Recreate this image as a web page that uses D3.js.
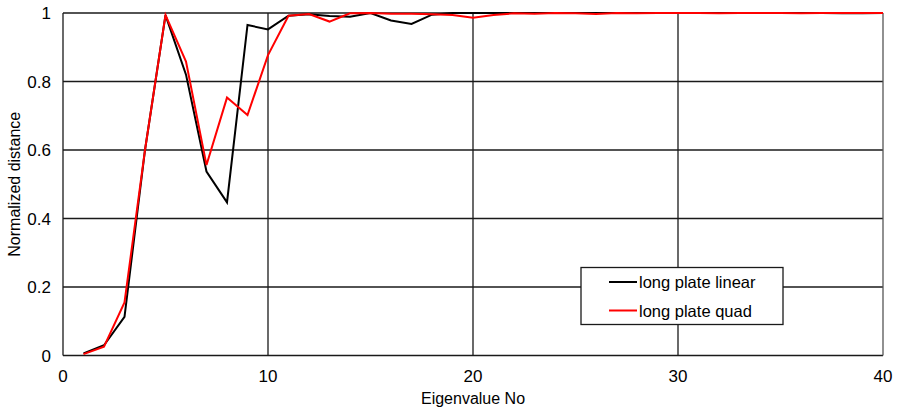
<!DOCTYPE html>
<html lang="en">
<head>
<meta charset="UTF-8"/>
<title>Normalized distance</title>
<script src="https://d3js.org/d3.v7.min.js"></script>
<style>
    body { margin: 0; background: #fff; }
    text { font-family: "Liberation Sans", Arial, sans-serif; fill: #000; }
</style>
</head>
<body>
<script>
    var w = 899;
    var h = 410;

    // eigenvalue numbers 1..40
    var eigenNo = [1,2,3,4,5,6,7,8,9,10,11,12,13,14,15,16,17,18,19,20,
                   21,22,23,24,25,26,27,28,29,30,31,32,33,34,35,36,37,38,39,40];

    var linear = [0.006,0.03,0.113,0.6,0.994,0.82,0.537,0.447,0.965,0.952,
                  0.992,0.996,0.991,0.989,1.0,0.978,0.968,0.995,1.0,1.0,
                  1.0,1.0,1.0,1.0,1.0,1.0,1.0,1.0,1.0,1.0,
                  1.0,1.0,1.0,1.0,1.0,1.0,1.0,0.999,0.999,1.0];

    var quad = [0.004,0.026,0.155,0.6,0.994,0.858,0.556,0.753,0.702,0.877,
                0.992,0.997,0.975,0.999,1.0,0.998,0.998,0.996,0.994,0.986,
                0.994,0.999,0.998,1.0,0.999,0.997,1.0,0.999,1.0,1.0,
                1.0,0.999,1.0,1.0,1.0,0.999,1.0,1.0,1.0,1.0];

    var xTicks = [0,10,20,30,40];
    var yTicks = [0,0.2,0.4,0.6,0.8,1];

    var series = [
        {name: "long plate linear", values: linear, color: "#000"},
        {name: "long plate quad", values: quad, color: "#ff0000"}
    ];

    var pLeft = 63, pRight = 883, pTop = 13, pBottom = 355.5;

    var xScale = d3.scaleLinear().domain([0, 40]).range([pLeft, pRight]);
    var yScale = d3.scaleLinear().domain([0, 1]).range([pBottom, pTop]);

    var svg = d3.select("body")
        .append("svg")
        .attr("width", w)
        .attr("height", h);

    // grid
    svg.selectAll(".hgrid")
        .data(yTicks)
        .enter()
        .append("line")
        .attr("x1", pLeft).attr("x2", pRight)
        .attr("y1", function(d){ return yScale(d); })
        .attr("y2", function(d){ return yScale(d); })
        .attr("stroke", "#1a1a1a")
        .attr("stroke-width", 1.3);

    svg.selectAll(".vgrid")
        .data(xTicks)
        .enter()
        .append("line")
        .attr("y1", pTop).attr("y2", pBottom)
        .attr("x1", function(d){ return xScale(d); })
        .attr("x2", function(d){ return xScale(d); })
        .attr("stroke", function(d){ return d == 40 ? "#555" : "#1a1a1a"; })
        .attr("stroke-width", 1.3);

    // tick labels
    svg.selectAll(".ylab")
        .data(yTicks)
        .enter()
        .append("text")
        .attr("x", pLeft - 12)
        .attr("y", function(d){ return yScale(d) + 6; })
        .attr("text-anchor", "end")
        .style("font-size", "17px")
        .text(function(d){ return d; });

    svg.selectAll(".xlab")
        .data(xTicks)
        .enter()
        .append("text")
        .attr("x", function(d){ return xScale(d); })
        .attr("y", pBottom + 26)
        .attr("text-anchor", "middle")
        .style("font-size", "17px")
        .text(function(d){ return d; });

    // axis titles
    svg.append("text")
        .attr("x", (pLeft + pRight) / 2)
        .attr("y", 404)
        .attr("text-anchor", "middle")
        .style("font-size", "16px")
        .text("Eigenvalue No");

    svg.append("text")
        .attr("transform", "translate(20," + ((pTop + pBottom) / 2) + ") rotate(-90)")
        .attr("text-anchor", "middle")
        .style("font-size", "16px")
        .text("Normalized distance");

    // lines
    var line = d3.line()
        .x(function(d, i){ return xScale(eigenNo[i]); })
        .y(function(d){ return yScale(d); });

    series.forEach(function(s){
        svg.append("path")
            .datum(s.values)
            .attr("d", line)
            .attr("fill", "none")
            .attr("stroke", s.color)
            .attr("stroke-width", 2)
            .attr("stroke-linejoin", "miter");
    });

    // legend
    var lg = svg.append("g");
    lg.append("rect")
        .attr("x", 581).attr("y", 267.5)
        .attr("width", 202).attr("height", 57)
        .attr("fill", "#fff")
        .attr("stroke", "#1a1a1a")
        .attr("stroke-width", 1.3);

    series.forEach(function(s, i){
        var yy = 282 + i * 28.5;
        lg.append("line")
            .attr("x1", 609).attr("x2", 637)
            .attr("y1", yy).attr("y2", yy)
            .attr("stroke", s.color)
            .attr("stroke-width", 2);
        lg.append("text")
            .attr("x", 639)
            .attr("y", yy + 6)
            .style("font-size", "16.5px")
            .text(s.name);
    });
</script>
</body>
</html>
